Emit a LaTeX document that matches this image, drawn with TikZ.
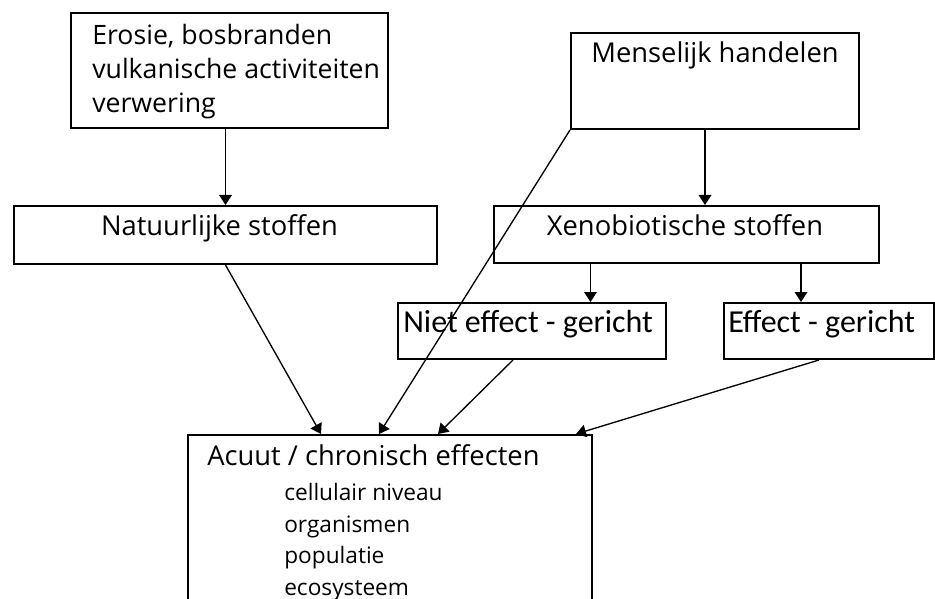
\documentclass[tikz,border=0pt]{standalone}
\usepackage{fontspec}
\setmainfont{Open Sans}
\newfontfamily\calfont{Carlito}
\usetikzlibrary{arrows.meta}
\tikzset{
  box/.style={draw, line width=1.5pt, rectangle, inner sep=0pt, anchor=north west},
  arr/.style={-{Triangle[length=7.5pt,width=9.5pt]}, line width=1pt},
  big/.style={inner sep=0pt, font=\fontsize{20.5}{24}\selectfont},
  topl/.style={inner sep=0pt, anchor=base west, font=\fontsize{20}{24}\selectfont},
  small/.style={inner sep=0pt, anchor=base west, font=\fontsize{17}{20}\selectfont},
  cal/.style={inner sep=0pt, anchor=base west, font=\calfont\fontsize{24}{28}\selectfont}
}
\begin{document}
\begin{tikzpicture}[x=0.75pt,y=-0.75pt]
\useasboundingbox (0,0) rectangle (935,599);
\clip (0,0) rectangle (935,599);
% boxes
\node[box, minimum width=237.75pt, minimum height=86.25pt] (ero) at (70,12) {};
\node[box, minimum width=216pt, minimum height=72pt] (men) at (570,32) {};
\node[box, minimum width=317.25pt, minimum height=43.5pt] (nat) at (13,205) {};
\node[box, minimum width=288.75pt, minimum height=42.75pt] (xen) at (493,205) {};
\node[box, minimum width=201pt, minimum height=42pt] (niet) at (397,302) {};
\node[box, minimum width=157.5pt, minimum height=42pt] (eff) at (723,302) {};
\node[box, minimum width=303pt, minimum height=139.5pt] (acu) at (187,434) {};
% texts
\node[topl] (t1) at (92,45) {Erosie, bosbranden};
\node[topl] (t2) at (92,79) {vulkanische activiteiten};
\node[topl] (t3) at (92,113) {verwering};
\node[big, anchor=base] (t4) at (715,63) {Menselijk handelen};
\node[big, anchor=base] (t5) at (219.5,235) {Natuurlijke stoffen};
\node[big, anchor=base] (t6) at (685,235) {Xenobiotische stoffen};
\node[cal] (t7) at (403,332) {Niet effect - gericht};
\node[cal] (t8) at (728,332) {Effect - gericht};
\node[big, anchor=base west] (t9) at (207,465) {Acuut / chronisch effecten};
\node[small] (s1) at (284,500) {cellulair niveau};
\node[small] (s2) at (284,532) {organismen};
\node[small] (s3) at (284,563) {populatie};
\node[small] (s4) at (284,595) {ecosysteem};
% connectors
\draw[arr] ([xshift=-3pt]ero.south) -- ([xshift=-3pt]ero.south |- nat.north);
\draw[arr] ([xshift=-7.5pt]men.south) -- ([xshift=-7.5pt]men.south |- xen.north);
\draw[arr] ([xshift=-72pt]xen.south) -- ([xshift=-72pt]xen.south |- niet.north);
\draw[arr] ([xshift=85.875pt]xen.south) -- ([xshift=85.875pt]xen.south |- eff.north);
\draw[arr] (nat.south) -- ([xshift=-51.75pt]acu.north);
\draw[arr] (men.south west) -- ([xshift=-8.25pt]acu.north);
\draw[arr] ([xshift=-14.25pt]niet.south) -- ([xshift=36pt]acu.north);
\draw[arr] ([xshift=-7.5pt]eff.south) -- ([xshift=139.5pt]acu.north);
\end{tikzpicture}
\end{document}
